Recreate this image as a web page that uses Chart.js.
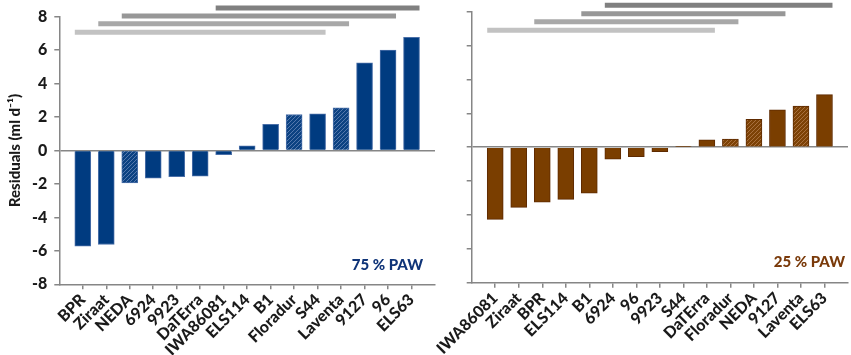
<!DOCTYPE html>
<html><head><meta charset="utf-8">
<script src="https://cdn.jsdelivr.net/npm/chart.js@4/dist/chart.umd.min.js"></script>
<style>
html,body{margin:0;padding:0;background:#fff;}
#wrap{position:relative;width:851px;height:355px;overflow:hidden;background:#fff;}
canvas{position:absolute;top:0;}
</style></head><body>
<div id="wrap">
<canvas id="c1" width="436" height="355" style="left:0"></canvas>
<canvas id="c2" width="415" height="355" style="left:436px"></canvas>
</div>
<script>
// ---- data ----
const cultivars75 = ['BPR','Ziraat','NEDA','6924','9923','DaTErra','IWA86081','ELS114','B1','Floradur','S44','Laventa','9127','96','ELS63'];
const residuals75 = [-5.72,-5.62,-1.94,-1.65,-1.57,-1.53,-0.25,0.28,1.56,2.15,2.19,2.54,5.24,6.00,6.76];
const cultivars25 = ['IWA86081','Ziraat','BPR','ELS114','B1','6924','96','9923','S44','DaTErra','Floradur','NEDA','9127','Laventa','ELS63'];
const residuals25 = [-4.26,-3.55,-3.25,-3.08,-2.72,-0.71,-0.56,-0.27,0.03,0.43,0.48,1.65,2.20,2.43,3.10];
const hatchedCultivars = ['NEDA','Floradur','Laventa'];
// homogeneous groups: first and last category index of each group
const groups75 = [[0,10],[1,11],[2,13],[6,14]];
const groupLevels75 = [7.06,7.57,8.04,8.51];
const groups25 = [[0,9],[2,10],[4,12],[5,14]];
const groupLevels25 = [6.90,7.41,7.88,8.38];
const yTickValues = [-8,-6,-4,-2,0,2,4,6,8];
const panelLabels = ['75 % PAW','25 % PAW'];
const yTitle = 'Residuals (ml d\u207B\u00B9)';

// ---- styles ----
const groupColors = ['#c2c2c2','#a8a8a8','#979797','#808080'];
const axisColor = '#868686';
const textColor = '#1a1a1a';
const FONT = 'Lato';
const W = '900';

function hatch(base, stripe){
  const c = document.createElement('canvas'); c.width = 4; c.height = 4;
  const g = c.getContext('2d');
  g.fillStyle = base; g.fillRect(0,0,4,4);
  g.strokeStyle = stripe; g.lineWidth = 1;
  g.beginPath();
  g.moveTo(-1,5); g.lineTo(5,-1);
  g.moveTo(-1,1); g.lineTo(1,-1);
  g.moveTo(3,5); g.lineTo(5,3);
  g.stroke();
  return g.createPattern(c,'repeat');
}

const panelLabelPlugin = {
  id: 'panelLabel',
  afterDraw(chart, args, o){
    const {ctx, chartArea: a} = chart;
    ctx.save();
    ctx.font = W + ' 15px ' + FONT;
    ctx.fillStyle = o.color;
    ctx.textAlign = 'right';
    ctx.textBaseline = 'middle';
    ctx.fillText(o.text, a.right - o.dx, a.bottom - o.dy);
    ctx.restore();
  }
};

function makeChart(id, cats, vals, groups, levels, opt){
  const barColors = cats.map(c => hatchedCultivars.includes(c) ? opt.hatch : opt.fill);
  const datasets = [{
    type: 'bar',
    data: vals.map((v,i) => ({x: i, y: v})),
    backgroundColor: barColors,
    borderColor: opt.edge,
    borderWidth: 1,
    barThickness: 16,
    order: 2
  }];
  groups.forEach((g,k) => {
    datasets.push({
      type: 'line',
      data: [{x: g[0] - 0.34, y: levels[k]}, {x: g[1] + 0.34, y: levels[k]}],
      borderColor: groupColors[k],
      borderWidth: 5,
      borderCapStyle: 'butt',
      pointRadius: 0,
      clip: false,
      order: 1
    });
  });
  return new Chart(document.getElementById(id), {
    type: 'bar',
    data: { datasets },
    options: {
      responsive: false,
      animation: false,
      devicePixelRatio: 1,
      layout: { padding: { top: opt.top, right: opt.right, left: 0, bottom: 0 } },
      plugins: {
        legend: { display: false },
        tooltip: { enabled: false },
        panelLabel: { text: opt.label, color: opt.labelColor, dx: opt.labelDx, dy: opt.labelDy }
      },
      scales: {
        x: {
          type: 'linear', min: -1, max: 15, offset: false,
          afterBuildTicks: s => { s.ticks = cats.map((_,i) => ({value: i})); },
          afterFit: s => { s.height = opt.xHeight; s.paddingLeft = 0; s.paddingRight = 0; },
          ticks: {
            autoSkip: false, maxRotation: 45, minRotation: 45, padding: 1,
            font: { family: FONT, weight: W, size: 16 }, color: textColor,
            callback: v => cats[v]
          },
          grid: { offset: false, drawOnChartArea: false, drawTicks: true, tickLength: 5, tickColor: axisColor, lineWidth: 1.5 },
          border: { color: axisColor, width: 1.5 }
        },
        y: {
          min: -8, max: 8,
          afterBuildTicks: s => { s.ticks = yTickValues.map(v => ({value: v})); },
          afterFit: s => { s.width = opt.yWidth; },
          ticks: { display: opt.showY, padding: 7, font: { family: FONT, weight: W, size: 16 }, color: textColor },
          grid: {
            color: c => (c.tick && c.tick.value === 0) ? axisColor : 'rgba(0,0,0,0)',
            tickColor: axisColor, tickLength: 5, lineWidth: 1.5
          },
          border: { color: axisColor, width: 1.5 },
          title: { display: opt.showY, text: yTitle, color: textColor,
                   font: { family: FONT, weight: W, size: 15 }, padding: { top: 6, bottom: 0 } }
        }
      }
    },
    plugins: [panelLabelPlugin]
  });
}

function init(){
  makeChart('c1', cultivars75, residuals75, groups75, groupLevels75, {
    fill: '#003b80', hatch: hatch('#0c4282', '#5478ad'), edge: '#4a6fa8',
    top: 14, right: 1, xHeight: 70.7, yWidth: 59.3, showY: true,
    label: panelLabels[0], labelColor: '#0f3478', labelDx: 12, labelDy: 19
  });
  makeChart('c2', cultivars25, residuals25, groups25, groupLevels25, {
    fill: '#7a3e00', hatch: hatch('#7d4206', '#a8703e'), edge: '#5e2a00',
    top: 11.7, right: 3, xHeight: 72.3, yWidth: 35.7, showY: false,
    label: panelLabels[1], labelColor: '#7a3a0a', labelDx: 3, labelDy: 21
  });
}
if (document.fonts && document.fonts.load) {
  document.fonts.load(W + ' 16px Lato').then(init, init);
} else { init(); }
</script>
</body></html>
